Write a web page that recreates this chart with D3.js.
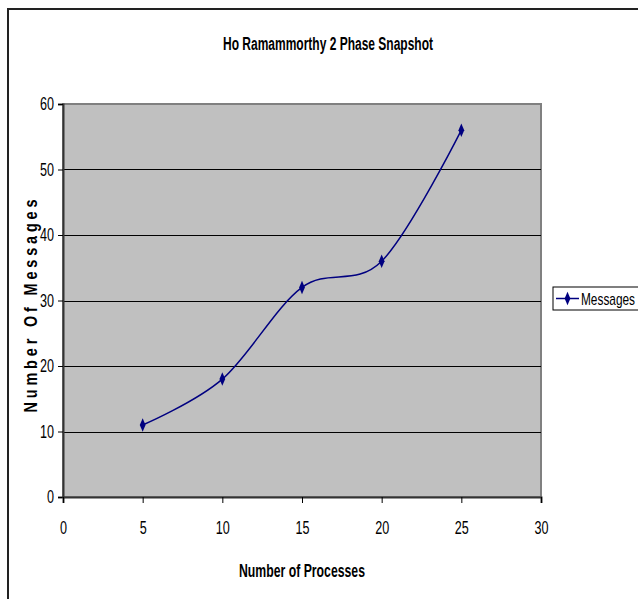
<!DOCTYPE html>
<html>
<head>
<meta charset="utf-8">
<script src="https://cdn.jsdelivr.net/npm/d3@7"></script>
<style>
  body { margin: 0; background: #fff; }
  svg { display: block; }
  text { font-family: "Liberation Sans Narrow", "Arial Narrow", "Liberation Sans", sans-serif; }
</style>
</head>
<body>
<svg id="chart"></svg>
<script>
const processes = [5, 10, 15, 20, 25];
const messages = [11, 18, 32, 36, 56];
const xTicks = [0, 5, 10, 15, 20, 25, 30];
const yTicks = [0, 10, 20, 30, 40, 50, 60];
const seriesName = "Messages";

const width = 638, height = 599;
const margin = { top: 104, right: 97, bottom: 102, left: 63 }; // plot area box
const w = width - margin.left - margin.right;
const h = height - margin.top - margin.bottom;

// no narrow font installed, so squeeze glyphs to look like Arial Narrow
const squeeze = (sel, k) => sel.each(function () {
    const len = this.getComputedTextLength();
    d3.select(this).attr("textLength", len * k).attr("lengthAdjust", "spacingAndGlyphs");
});

const svg = d3.select("#chart").attr("width", width).attr("height", height);

// outer chart frame (runs off right/bottom)
svg.append("rect")
    .attr("x", 8).attr("y", 9)
    .attr("width", 700).attr("height", 700)
    .attr("fill", "none")
    .attr("stroke", "#222")
    .attr("stroke-width", 2);

svg.append("text")
    .attr("x", 328).attr("y", 50)
    .attr("text-anchor", "middle")
    .attr("font-size", 17.5)
    .attr("font-weight", "bold")
    .attr("textLength", 210)
    .attr("lengthAdjust", "spacingAndGlyphs")
    .text("Ho Ramammorthy 2 Phase Snapshot");

const g = svg.append("g").attr("transform", `translate(${margin.left},${margin.top})`);

const x = d3.scaleLinear().domain([0, 30]).range([0, w]);
const y = d3.scaleLinear().domain([0, 60]).range([h, 0]);

g.append("rect")
    .attr("width", w).attr("height", h)
    .attr("fill", "#c0c0c0")
    .attr("stroke", "#808080")
    .attr("stroke-width", 2);

// gridlines
g.selectAll(".grid")
    .data(yTicks.filter(d => d > 0 && d < 60))
    .enter()
    .append("line")
    .attr("x1", 0).attr("x2", w)
    .attr("y1", d => Math.round(y(d)) + 0.5)
    .attr("y2", d => Math.round(y(d)) + 0.5)
    .attr("stroke", "#000")
    .attr("stroke-width", 1);

// axes
const yAxis = g.append("g")
    .call(d3.axisLeft(y).tickValues(yTicks).tickSize(5).tickPadding(4));
const xAxis = g.append("g")
    .attr("transform", `translate(0,${h})`)
    .call(d3.axisBottom(x).tickValues(xTicks).tickSize(6).tickPadding(19));
[yAxis, xAxis].forEach(a => {
    a.select(".domain").attr("stroke", "#333").attr("stroke-width", 2);
    a.selectAll(".tick line").attr("stroke", "#000");
    a.selectAll("text").attr("font-size", 17.5).attr("fill", "#000")
        .attr("font-family", "\"Liberation Sans Narrow\", \"Liberation Sans\", sans-serif")
        .call(squeeze, 0.72);
});

// axis titles
svg.append("text")
    .attr("x", 302).attr("y", 577)
    .attr("text-anchor", "middle")
    .attr("font-size", 17.5)
    .attr("font-weight", "bold")
    .attr("textLength", 126)
    .attr("lengthAdjust", "spacingAndGlyphs")
    .text("Number of Processes");

svg.append("text")
    .attr("transform", "translate(37,306) rotate(-90) scale(0.8,1)")
    .attr("text-anchor", "middle")
    .attr("font-size", 18)
    .attr("font-weight", "bold")
    .attr("textLength", 213 / 0.8)
    .attr("lengthAdjust", "spacing")
    .text("Number Of Messages");

// series
const pts = processes.map((p, i) => ({ p, m: messages[i] }));
const line = d3.line()
    .x(d => x(d.p))
    .y(d => y(d.m))
    .curve(d3.curveCardinal.tension(0));

g.append("path")
    .datum(pts)
    .attr("fill", "none")
    .attr("stroke", "#000080")
    .attr("stroke-width", 1.5)
    .attr("d", line);

const diamond = d3.symbol().type(d3.symbolDiamond).size(40);
g.selectAll(".dot")
    .data(pts)
    .enter()
    .append("path")
    .attr("d", diamond)
    .attr("transform", d => `translate(${x(d.p)},${y(d.m)}) scale(0.85,1.15)`)
    .attr("fill", "#000080");

// legend
const lg = svg.append("g").attr("transform", "translate(553,287)");
lg.append("rect")
    .attr("width", 90).attr("height", 23)
    .attr("fill", "#fff")
    .attr("stroke", "#000")
    .attr("stroke-width", 1);
lg.append("line")
    .attr("x1", 3).attr("x2", 26)
    .attr("y1", 11.5).attr("y2", 11.5)
    .attr("stroke", "#000080").attr("stroke-width", 1.5);
lg.append("path")
    .attr("d", diamond)
    .attr("transform", "translate(14.5,11.5) scale(0.85,1.15)")
    .attr("fill", "#000080");
lg.append("text")
    .attr("x", 28).attr("y", 18)
    .attr("font-size", 17)
    .attr("textLength", 54)
    .attr("lengthAdjust", "spacingAndGlyphs")
    .text(seriesName);
</script>
</body>
</html>
